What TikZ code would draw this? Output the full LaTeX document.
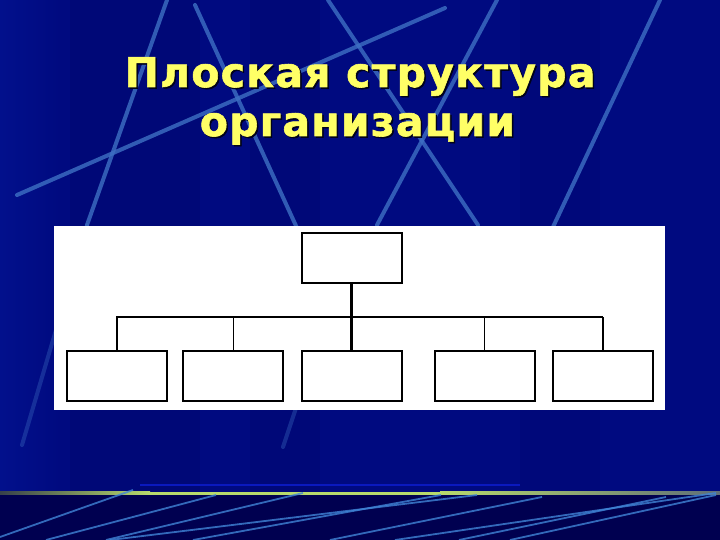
\documentclass[tikz,border=0pt]{standalone}
\usepackage{fontspec}
\newfontfamily\titlefont[LetterSpace=3, FakeBold=1.4]{DejaVu Sans}
\definecolor{navy}{RGB}{0,10,128}
\definecolor{navydark}{RGB}{0,4,100}
\definecolor{navylight}{RGB}{2,16,140}
\definecolor{bandnavy}{RGB}{0,0,80}
\definecolor{streak}{RGB}{62,112,196}
\definecolor{streaklow}{RGB}{64,132,214}
\definecolor{titleyellow}{RGB}{255,255,102}
\definecolor{rulegreen}{RGB}{184,218,108}
\definecolor{rulegreyL}{RGB}{55,65,75}
\definecolor{rulegreyR}{RGB}{95,110,120}
\definecolor{thinblue}{RGB}{10,25,190}
\tikzset{
  streakline/.style={draw=streak, line width=4pt, opacity=0.8, line cap=round},
  faintstreak/.style={draw=streak, line width=4pt, opacity=0.35, line cap=round},
  lowstreak/.style={draw=streaklow, line width=1.8pt, opacity=0.8},
  orgbox/.style={draw=black, line width=2pt, fill=white, minimum width=100pt, minimum height=50pt, inner sep=0pt, outer sep=0pt},
  busline/.style={draw=black, line width=2.2pt},
  dropline/.style={draw=black, line width=1.1pt},
  titletext/.style={font=\titlefont\bfseries\fontsize{41}{48}\selectfont, anchor=base, inner sep=0pt},
}
\begin{document}
\begin{tikzpicture}[x=1pt,y=-1pt]
\useasboundingbox (0,0) rectangle (720,540);
% background
\fill[navy] (0,0) rectangle (720,495);
\shade[left color=navylight, right color=navy] (0,0) rectangle (60,495);
\fill[navydark, opacity=0.3] (70,0) rectangle (200,495);
\fill[navydark, opacity=0.25] (250,0) rectangle (320,495);
\fill[navydark, opacity=0.2] (520,0) rectangle (600,495);
\fill[bandnavy] (0,494) rectangle (720,540);
% upper streaks
\draw[streakline] (17,195) -- (445,8);
\draw[streakline] (167,0) -- (87,225);
\draw[faintstreak] (87,225) -- (22,445);
\draw[streakline] (195,5) -- (297,228);
\draw[streakline] (497,0) -- (377,225);
\draw[streakline] (328,0) -- (478,225);
\draw[streakline] (660,0) -- (553,227);
\draw[faintstreak] (297,405) -- (283,447);
% thin line above rule
\draw[thinblue, line width=1.2pt] (140,485) -- (520,485);
% rule
\shade[left color=rulegreyL, right color=rulegreen] (0,491.5) rectangle (150,494.5);
\fill[rulegreen] (150,491.5) rectangle (440,494.5);
\shade[left color=rulegreen, right color=rulegreyR] (440,491.5) rectangle (720,494.5);
% lower streaks
\draw[lowstreak] (0,537) -- (133,490);
\draw[lowstreak] (46,540) -- (216,495);
\draw[lowstreak] (106,540) -- (303,493);
\draw[lowstreak] (110,540) -- (477,495);
\draw[lowstreak] (193,540) -- (441,495);
\draw[lowstreak] (330,540) -- (542,497);
\draw[lowstreak] (395,540) -- (716,493);
\draw[lowstreak] (459,540) -- (666,497);
\draw[lowstreak] (510,540) -- (716,495);
% title
\node[titletext, text=black!80!navy] (title1s) at (361.5,88.5) {Плоская структура};
\node[titletext, text=black!80!navy] (title2s) at (359,137.5) {организации};
\node[titletext, text=titleyellow] (title1) at (360,87) {Плоская структура};
\node[titletext, text=titleyellow] (title2) at (357.5,136) {организации};
% panel
\fill[white] (54,226) rectangle (665,410);
% chart
\node[orgbox] (top) at (351.5,258) {};
\node[orgbox] (b1) at (116.8,376) {};
\node[orgbox] (b2) at (233.3,376) {};
\node[orgbox] (b3) at (351.5,376) {};
\node[orgbox] (b4) at (484.8,376) {};
\node[orgbox] (b5) at (603,376) {};
\coordinate (busy) at (0,316.7);
\draw[busline] (top.south) -- (b3.north);
\draw[busline] (b1.north) -- (b1.north |- busy) -- (b5.north |- busy);
\draw[dropline] (b2.north) -- (b2.north |- busy);
\draw[dropline] (b4.north) -- (b4.north |- busy);
\draw[dropline] (b5.north) -- (b5.north |- busy);
\end{tikzpicture}
\end{document}
